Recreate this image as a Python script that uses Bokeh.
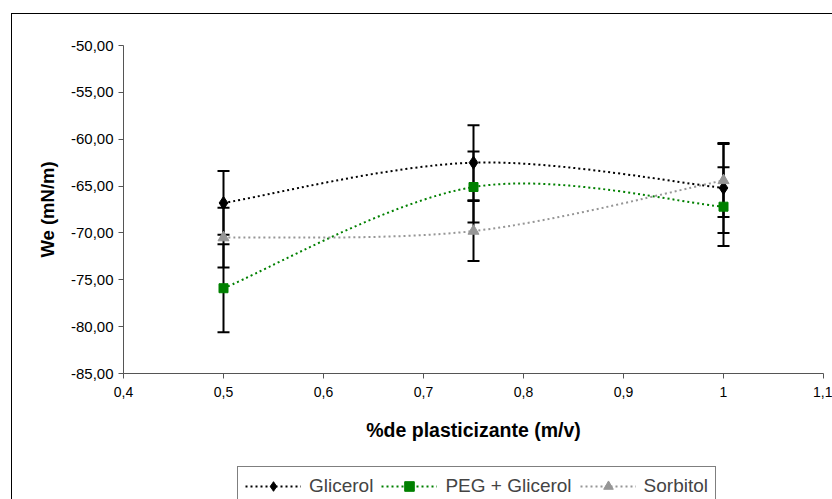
import numpy as np
from bokeh.plotting import figure
from bokeh.layouts import column
from bokeh.models import (ColumnDataSource, Whisker, TeeHead, Legend, LegendItem,
                          FixedTicker, Range1d)
from bokeh.embed import file_html
from bokeh.resources import INLINE

# ---- data ----
x_vals = [0.5, 0.75, 1.0]
series_names = ["Glicerol", "PEG + Glicerol", "Sorbitol"]
glicerol = [-66.8, -62.5, -65.2]
glicerol_err = [3.4, 4.0, 4.8]
peg_glicerol = [-75.9, -65.1, -67.2]
peg_glicerol_err = [4.7, 3.8, 4.2]
sorbitol = [-70.5, -69.8, -64.4]
sorbitol_err = [3.2, 3.2, 3.9]

x_ticks = [0.4, 0.5, 0.6, 0.7, 0.8, 0.9, 1.0, 1.1]
x_tick_labels = ["0,4", "0,5", "0,6", "0,7", "0,8", "0,9", "1", "1,1"]
y_ticks = [-85, -80, -75, -70, -65, -60, -55, -50]
y_tick_labels = ["-85,00", "-80,00", "-75,00", "-70,00", "-65,00", "-60,00", "-55,00", "-50,00"]

FONT = "Liberation Sans"

p = figure(width=820, height=439, x_range=(0.4, 1.1), y_range=(-85, -50),
           output_backend="svg", toolbar_location=None,
           min_border_left=111, min_border_right=9, min_border_top=31, min_border_bottom=80)
p.outline_line_color = None
p.xgrid.visible = False
p.ygrid.visible = False

for ax, ticks, labels in ((p.xaxis[0], x_ticks, x_tick_labels), (p.yaxis[0], y_ticks, y_tick_labels)):
    ax.ticker = FixedTicker(ticks=ticks)
    ax.major_label_overrides = {t: l for t, l in zip(ticks, labels)}
    ax.minor_tick_line_color = None
    ax.major_tick_in = 0
    ax.major_tick_out = 5
    ax.axis_line_color = "#555555"
    ax.major_tick_line_color = "#555555"
    ax.major_label_text_font = FONT
    ax.major_label_text_color = "black"
    ax.axis_label_text_font = FONT
    ax.axis_label_text_font_style = "bold"
    ax.axis_label_text_color = "black"

p.xaxis.major_label_text_font_size = "14px"
p.yaxis.major_label_text_font_size = "15px"
p.xaxis.major_label_standoff = 8
p.xaxis.axis_label = "%de plasticizante (m/v)"
p.yaxis.axis_label = "We (mN/m)"
p.xaxis.axis_label_text_font_size = "19.5px"
p.yaxis.axis_label_text_font_size = "18.5px"
p.xaxis.axis_label_standoff = 19
p.yaxis.axis_label_standoff = 10


def smooth_ctrl(xs, ys):
    # Bezier control points for a smoothed line through the data points
    xs = np.asarray(xs, float); ys = np.asarray(ys, float)
    n = len(xs)
    px = np.concatenate([[xs[0]], xs, [xs[-1]]])
    py = np.concatenate([[ys[0]], ys, [ys[-1]]])
    x0, y0, x1, y1, cx0, cy0, cx1, cy1 = [], [], [], [], [], [], [], []
    for i in range(n - 1):
        a, b, c, d = i, i + 1, i + 2, i + 3
        x0.append(px[b]); y0.append(py[b]); x1.append(px[c]); y1.append(py[c])
        cx0.append(px[b] + (px[c] - px[a]) / 6); cy0.append(py[b] + (py[c] - py[a]) / 6)
        cx1.append(px[c] - (px[d] - px[b]) / 6); cy1.append(py[c] - (py[d] - py[b]) / 6)
    return dict(x0=x0, y0=y0, x1=x1, y1=y1, cx0=cx0, cy0=cy0, cx1=cx1, cy1=cy1)


styles = [
    (glicerol, glicerol_err, "black", "diamond", 13),
    (peg_glicerol, peg_glicerol_err, "#008000", "square", 9),
    (sorbitol, sorbitol_err, "#969696", "triangle", 11),
]

# separate strip for the legend below the chart
pl = figure(width=820, height=46, x_range=Range1d(0, 1), y_range=Range1d(0, 1),
            output_backend="svg", toolbar_location=None,
            min_border_left=0, min_border_right=0, min_border_top=0, min_border_bottom=0)
pl.outline_line_color = None
pl.axis.visible = False
pl.grid.visible = False

items = []
for name, (ys, errs, color, marker, size) in zip(series_names, styles):
    src = ColumnDataSource(dict(x=x_vals, y=ys,
                                lo=[y - e for y, e in zip(ys, errs)],
                                hi=[y + e for y, e in zip(ys, errs)]))
    w = Whisker(base="x", upper="hi", lower="lo", source=src, dimension="height",
                line_color="black", line_width=2, level="underlay",
                upper_head=TeeHead(size=12, line_color="black", line_width=2),
                lower_head=TeeHead(size=12, line_color="black", line_width=2))
    p.add_layout(w)
    bz = ColumnDataSource(smooth_ctrl(x_vals, ys))
    p.bezier(x0="x0", y0="y0", x1="x1", y1="y1", cx0="cx0", cy0="cy0", cx1="cx1", cy1="cy1",
             source=bz, line_color=color, line_width=2, line_dash="2 3")
    p.scatter(x="x", y="y", source=src, marker=marker, size=size,
              fill_color=color, line_color=color)
    # legend sample renderers (no data of their own)
    ll = pl.line(x=[np.nan], y=[np.nan], line_color=color, line_width=2, line_dash="2 3")
    ls = pl.scatter(x=[np.nan], y=[np.nan], marker=marker, size=size - 2,
                    fill_color=color, line_color=color)
    items.append(LegendItem(label=name, renderers=[ll, ls]))

legend = Legend(items=items, orientation="horizontal", location=(114, -7),
                border_line_color="black", border_line_width=1,
                label_text_font=FONT, label_text_font_size="19px",
                glyph_width=56, glyph_height=24, label_standoff=8, spacing=8, padding=7,
                margin=0, background_fill_alpha=1)
pl.add_layout(legend, "center")

layout = column(p, pl, spacing=0)
layout.margin = (13, 0, 0, 11)
layout.styles = {"border-left": "1px solid #000", "border-top": "1px solid #000"}

open("out.html", "w").write(file_html(layout, INLINE))
